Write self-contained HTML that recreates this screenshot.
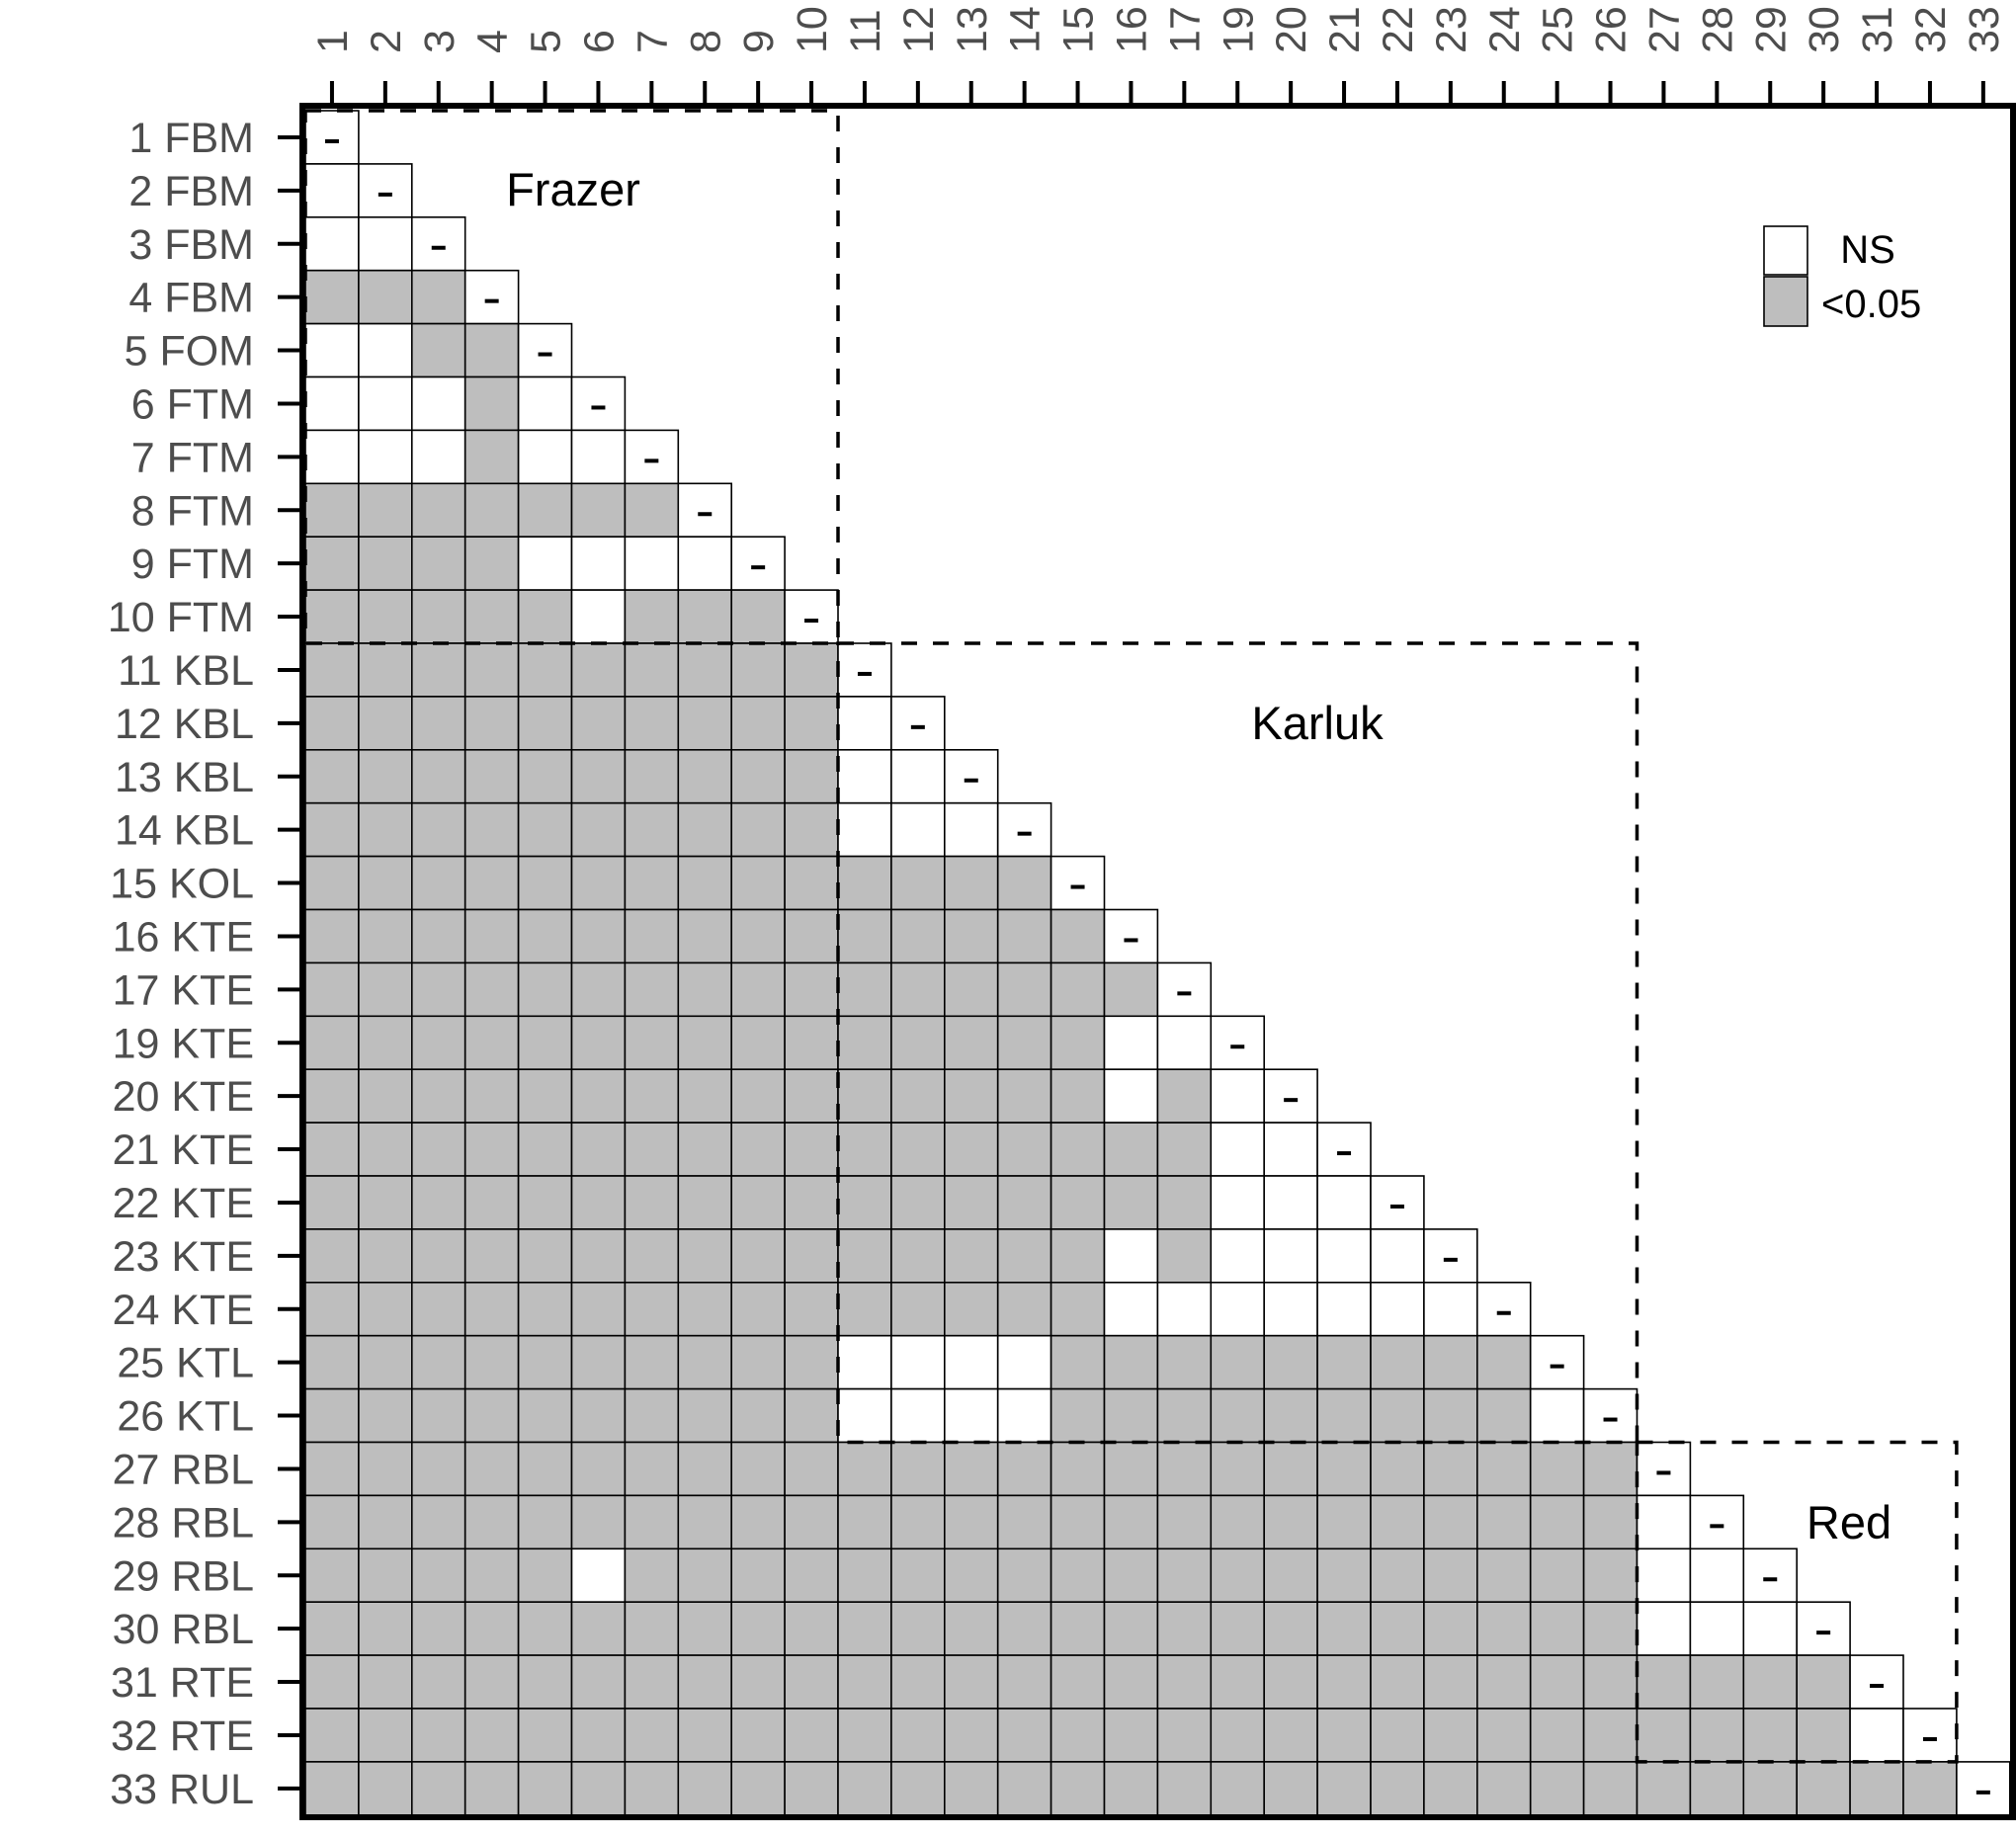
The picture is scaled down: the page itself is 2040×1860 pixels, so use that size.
<!DOCTYPE html>
<html><head><meta charset="utf-8"><style>
html,body{margin:0;padding:0;background:#fff;}
svg{display:block;}
</style></head><body>
<svg id="chart" width="2040" height="1860" xmlns="http://www.w3.org/2000/svg" font-family="Liberation Sans, Arial, sans-serif"></svg>
<script>
const columnLabels = ["1","2","3","4","5","6","7","8","9","10","11","12","13","14","15","16","17","19","20","21","22","23","24","25","26","27","28","29","30","31","32","33"];
const rowLabels = ["1 FBM","2 FBM","3 FBM","4 FBM","5 FOM","6 FTM","7 FTM","8 FTM","9 FTM","10 FTM","11 KBL","12 KBL","13 KBL","14 KBL","15 KOL","16 KTE","17 KTE","19 KTE","20 KTE","21 KTE","22 KTE","23 KTE","24 KTE","25 KTL","26 KTL","27 RBL","28 RBL","29 RBL","30 RBL","31 RTE","32 RTE","33 RUL"];
// lower-triangle significance per row (1 = p<0.05, 0 = NS)
const significance = [
"",
"0",
"00",
"111",
"0011",
"00010",
"000100",
"1111111",
"11110000",
"111110111",
"1111111111",
"11111111110",
"111111111100",
"1111111111000",
"11111111111111",
"111111111111111",
"1111111111111111",
"11111111111111100",
"111111111111111010",
"1111111111111111100",
"11111111111111111000",
"111111111111111010000",
"1111111111111110000000",
"11111111110000111111111",
"111111111100001111111110",
"1111111111111111111111111",
"11111111111111111111111110",
"111110111111111111111111100",
"1111111111111111111111111000",
"11111111111111111111111111111",
"111111111111111111111111111110",
"1111111111111111111111111111111"
];
const groupNames = ["Frazer","Karluk","Red"];
const groupStart = [0,10,25];
const groupEnd = [9,24,30];

const svg = document.getElementById('chart');
const NS = 'http://www.w3.org/2000/svg';
const x0 = 309, y0 = 112, cell = 53.9;
const xPos = i => x0 + i*cell;
const yPos = i => y0 + i*cell;
function mk(tag, attrs, parent){
  const e = document.createElementNS(NS, tag);
  for (const k in attrs) e.setAttribute(k, attrs[k]);
  (parent||svg).appendChild(e);
  return e;
}
const cellsG = mk('g', {});


for (let r = 0; r < rowLabels.length; r++) {
  const s = significance[r];
  for (let c = 0; c <= r; c++) {
    const diag = c === r;
    const sig = !diag && s[c] === '1';
    const rc = mk('rect', {x: xPos(c), y: yPos(r), width: cell, height: cell, fill: sig ? '#bebebe' : '#ffffff', stroke: '#000', 'stroke-width': 1.6}, cellsG);
    
    
    if (diag) {
      const d = mk('rect', {x: xPos(c) + cell/2 - 7, y: yPos(r) + cell/2 + 2, width: 14, height: 4, fill: '#000'}, cellsG);
      
      
    }
  }
}
for (let g = 0; g < groupNames.length; g++) {
  const a = groupStart[g], b = groupEnd[g];
  const bx = mk('rect', {x: xPos(a), y: yPos(a), width: (b-a+1)*cell, height: (b-a+1)*cell, fill: 'none', stroke: '#000', 'stroke-width': 3.5, 'stroke-dasharray': '16 16'});
  
  
}
const glPos = [[580,208],[1333,748],[1871,1557]];
for (let g = 0; g < groupNames.length; g++) {
  const t = mk('text', {x: glPos[g][0], y: glPos[g][1], 'text-anchor': 'middle', 'font-size': 47, fill: '#000'});
  t.textContent = groupNames[g];
  
  
}
const fr = mk('rect', {x: 306, y: 107, width: 1731, height: 1732, fill: 'none', stroke: '#000', 'stroke-width': 6});


for (let c = 0; c < columnLabels.length; c++) {
  const cx = xPos(c) + cell/2;
  const tk = mk('line', {x1: cx, x2: cx, y1: 82, y2: 104, stroke: '#000', 'stroke-width': 4});
  
  
  const t = mk('text', {transform: `translate(${cx+15},54) rotate(-90)`, 'font-size': 43, fill: '#4d4d4d'});
  t.textContent = columnLabels[c];
  
  
}
for (let r = 0; r < rowLabels.length; r++) {
  const cy = yPos(r) + cell/2;
  const tk = mk('line', {x1: 281, x2: 304, y1: cy, y2: cy, stroke: '#000', 'stroke-width': 4});
  
  
  const t = mk('text', {x: 257, y: cy + 15, 'text-anchor': 'end', 'font-size': 43, fill: '#4d4d4d'});
  t.textContent = rowLabels[r];
  
  
}
const lg = mk('g', {});


const b1 = mk('rect', {x: 1785, y: 229, width: 44, height: 49, fill: '#fff', stroke: '#000', 'stroke-width': 1.6}, lg);


const b2 = mk('rect', {x: 1785, y: 280, width: 44, height: 50, fill: '#bebebe', stroke: '#000', 'stroke-width': 1.6}, lg);


const t1 = mk('text', {x: 1890, y: 266, 'text-anchor': 'middle', 'font-size': 40, fill: '#000'}, lg);
t1.textContent = 'NS';


const t2 = mk('text', {x: 1843, y: 321, 'font-size': 40, fill: '#000'}, lg);
t2.textContent = '<0.05';


</script>
</body></html>
